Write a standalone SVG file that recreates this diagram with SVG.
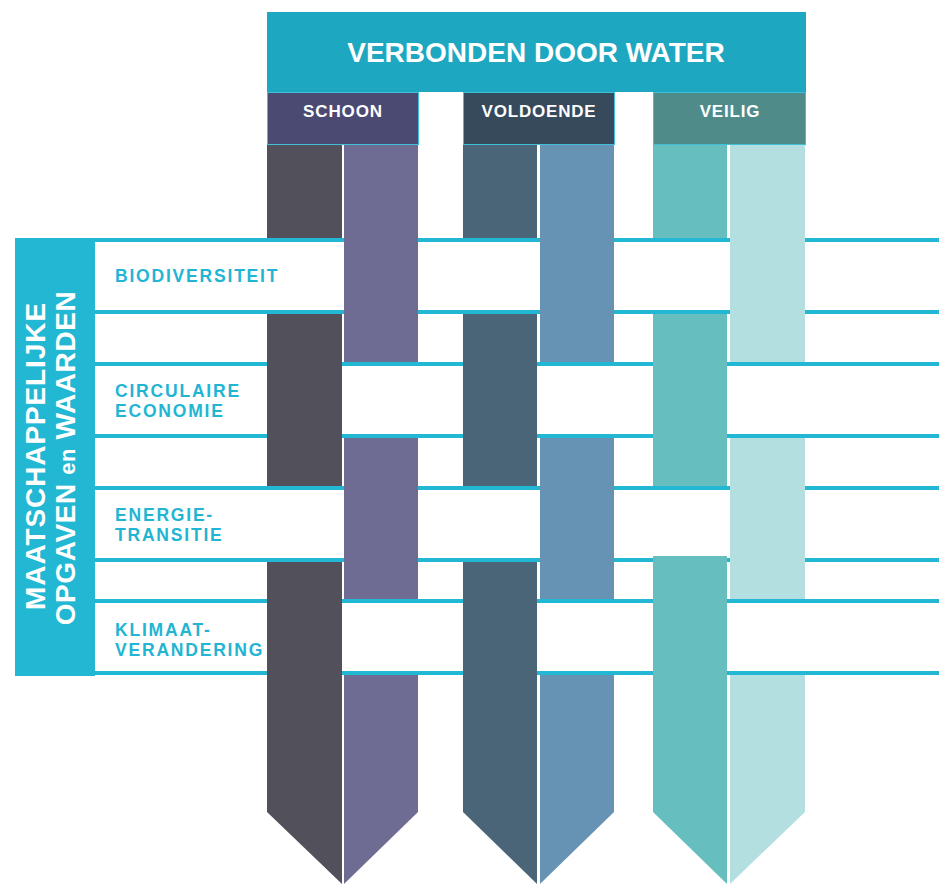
<svg xmlns="http://www.w3.org/2000/svg" width="939" height="884" viewBox="0 0 939 884">
<style>
.hdr{font-family:"Liberation Sans",Arial,sans-serif;font-weight:bold;fill:#ffffff;text-anchor:middle}
.lbl{font-family:"Liberation Sans",Arial,sans-serif;font-weight:bold;font-size:17.5px;letter-spacing:1.8px;fill:#22b5d3}
.side{font-family:"Liberation Sans",Arial,sans-serif;font-weight:bold;font-size:28px;fill:#ffffff;text-anchor:middle}
.line{fill:#22b7d3}
.band{fill:#ffffff}
.sub{stroke:#3fc0d8;stroke-width:1}
.c1{fill:#51505b}.c2{fill:#6e6c92}.c3{fill:#4a6478}.c4{fill:#6693b3}.c5{fill:#67bebe}.c6{fill:#b3dfe0}
</style>
<rect width="939" height="884" fill="#ffffff"/>

<g id="columns">
  <polygon class="c1" points="267,145 342,145 342,884 267,812"/>
  <polygon class="c2" points="344,145 418,145 418,812 344,884"/>
  <polygon class="c3" points="463,145 537,145 537,884 463,812"/>
  <polygon class="c4" points="540,145 614,145 614,812 540,884"/>
  <polygon class="c5" points="653,145 727,145 727,884 653,812"/>
  <polygon class="c6" points="730,145 805,145 805,812 730,884"/>
</g>

<g id="band-biodiversiteit">
  <rect class="band" x="95" y="238" width="844" height="76"/>
  <rect class="line" x="95" y="238" width="844" height="4"/>
  <rect class="line" x="95" y="310" width="844" height="4"/>
  <text class="lbl" x="115" y="282">BIODIVERSITEIT</text>
</g>
<g id="band-circulaire">
  <rect class="band" x="95" y="362" width="844" height="76"/>
  <rect class="line" x="95" y="362" width="844" height="4"/>
  <rect class="line" x="95" y="434" width="844" height="4"/>
  <text class="lbl" x="115" y="397">CIRCULAIRE</text>
  <text class="lbl" x="115" y="417">ECONOMIE</text>
</g>
<g id="band-energie">
  <rect class="band" x="95" y="486" width="844" height="76"/>
  <rect class="line" x="95" y="486" width="844" height="4"/>
  <rect class="line" x="95" y="558" width="844" height="4"/>
  <text class="lbl" x="115" y="521">ENERGIE-</text>
  <text class="lbl" x="115" y="541">TRANSITIE</text>
</g>
<g id="band-klimaat">
  <rect class="band" x="95" y="599" width="844" height="76"/>
  <rect class="line" x="95" y="599" width="844" height="4"/>
  <rect class="line" x="95" y="671" width="844" height="4"/>
  <text class="lbl" x="115" y="636">KLIMAAT-</text>
  <text class="lbl" x="115" y="656">VERANDERING</text>
</g>

<g id="weave-over">
  <rect class="c2" x="344" y="236" width="74" height="80"/>
  <rect class="c4" x="540" y="236" width="74" height="80"/>
  <rect class="c6" x="730" y="236" width="75" height="80"/>
  <rect class="c1" x="267" y="360" width="75" height="80"/>
  <rect class="c3" x="463" y="360" width="74" height="80"/>
  <rect class="c5" x="653" y="360" width="74" height="80"/>
  <rect class="c2" x="344" y="484" width="74" height="80"/>
  <rect class="c4" x="540" y="484" width="74" height="80"/>
  <rect class="c6" x="730" y="484" width="75" height="80"/>
  <rect class="c1" x="267" y="597" width="75" height="80"/>
  <rect class="c3" x="463" y="597" width="74" height="80"/>
  <rect class="c5" x="653" y="556" width="74" height="121"/>
</g>

<g id="side-box">
  <rect x="15" y="238" width="80" height="438" fill="#22b7d3"/>
  <text class="side" transform="translate(45,456) rotate(-90)" letter-spacing="0.9">MAATSCHAPPELIJKE</text>
  <text class="side" transform="translate(75,458) rotate(-90)" letter-spacing="0.6">OPGAVEN <tspan font-size="22">en</tspan> WAARDEN</text>
</g>

<g id="header">
  <rect x="267" y="12" width="539" height="80" fill="#1ea7c1"/>
  <text class="hdr" x="536" y="62" font-size="28">VERBONDEN DOOR WATER</text>
</g>
<g id="schoon">
  <rect class="sub" x="267.5" y="92.5" width="151" height="52" fill="#4b4a73"/>
  <text class="hdr" x="343" y="117" font-size="17" letter-spacing="0.9">SCHOON</text>
</g>
<g id="voldoende">
  <rect class="sub" x="463.5" y="92.5" width="151" height="52" fill="#374a5b"/>
  <text class="hdr" x="539" y="117" font-size="17" letter-spacing="0.8">VOLDOENDE</text>
</g>
<g id="veilig">
  <rect class="sub" x="653.5" y="92.5" width="152" height="52" fill="#4e8b89"/>
  <text class="hdr" x="730" y="117" font-size="17" letter-spacing="0.8">VEILIG</text>
</g>
</svg>
